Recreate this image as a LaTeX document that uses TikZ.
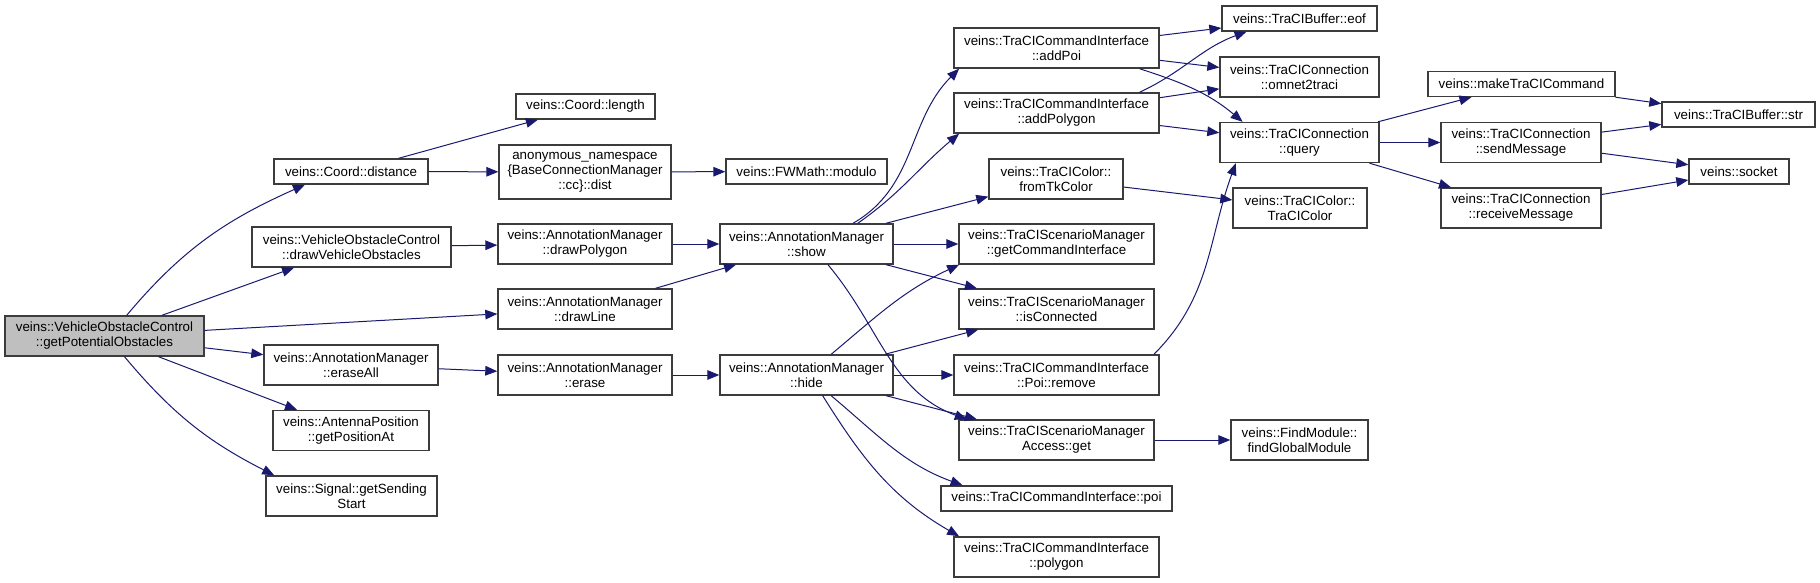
\documentclass[tikz,border=0pt]{standalone}
\usepackage{fontspec}
\setmainfont{Liberation Sans}
\usetikzlibrary{arrows.meta}
\definecolor{cEdge}{RGB}{25,25,112}
\definecolor{cRoot}{RGB}{191,191,191}
\definecolor{cLine}{RGB}{60,60,60}
\tikzset{
	fn/.style       ={rectangle, draw=cLine, line width=0.7pt, fill=white, inner sep=0pt, minimum height=20pt, align=center, font=\fontsize{6.67}{7.5}\selectfont},
	oneline/.style  ={minimum height=12.5pt},
	threeline/.style={minimum height=27pt},
	fnroot/.style   ={fn, fill=cRoot},
	call/.style     ={-{Triangle[length=6pt, width=4.8pt]}, draw=cEdge, line width=0.5pt},
}
\begin{document}
\begin{tikzpicture}[x=0.5pt, y=0.5pt]
	\useasboundingbox (0,0) rectangle (1820,-583);
	% caller
	\node[fnroot, minimum width=99.5pt] (root) at (104.5,-336) {veins::VehicleObstacleControl\\::getPotentialObstacles};
	% first level
	\node[fn, oneline, minimum width=77pt] (distance) at (351,-171.5) {veins::Coord::distance};
	\node[fn, minimum width=99.5pt] (drawVO) at (351.5,-247) {veins::VehicleObstacleControl\\::drawVehicleObstacles};
	\node[fn, minimum width=87pt] (eraseAll) at (351,-365) {veins::AnnotationManager\\::eraseAll};
	\node[fn, minimum width=78pt] (getPosAt) at (351,-430.5) {veins::AntennaPosition\\::getPositionAt};
	\node[fn, minimum width=85.5pt] (sendStart) at (351.5,-496) {veins::Signal::getSending\\Start};
	% second level
	\node[fn, oneline, minimum width=69.5pt] (length) at (585.5,-106.5) {veins::Coord::length};
	\node[fn, threeline, minimum width=86pt] (ccDist) at (585,-172) {anonymous\_namespace\\\{BaseConnectionManager\\::cc\}::dist};
	\node[fn, minimum width=87pt] (drawPolygon) at (585,-244) {veins::AnnotationManager\\::drawPolygon};
	\node[fn, minimum width=87pt] (drawLine) at (585,-309) {veins::AnnotationManager\\::drawLine};
	\node[fn, minimum width=87pt] (erase) at (585,-375) {veins::AnnotationManager\\::erase};
	% third level
	\node[fn, oneline, minimum width=80.5pt] (modulo) at (806.5,-171.5) {veins::FWMath::modulo};
	\node[fn, minimum width=86.5pt] (show) at (806.5,-244) {veins::AnnotationManager\\::show};
	\node[fn, minimum width=86.5pt] (hide) at (806.5,-375) {veins::AnnotationManager\\::hide};
	% fourth level
	\node[fn, minimum width=102.5pt] (addPoi) at (1056.5,-48) {veins::TraCICommandInterface\\::addPoi};
	\node[fn, minimum width=102.5pt] (addPolygon) at (1056.5,-113) {veins::TraCICommandInterface\\::addPolygon};
	\node[fn, minimum width=67pt] (fromTk) at (1056,-179) {veins::TraCIColor::\\fromTkColor};
	\node[fn, minimum width=97.5pt] (getCI) at (1056.5,-244) {veins::TraCIScenarioManager\\::getCommandInterface};
	\node[fn, minimum width=97.5pt] (isConn) at (1056.5,-309) {veins::TraCIScenarioManager\\::isConnected};
	\node[fn, minimum width=102.5pt] (poiRemove) at (1056.5,-375) {veins::TraCICommandInterface\\::Poi::remove};
	\node[fn, minimum width=97.5pt] (smGet) at (1056.5,-440) {veins::TraCIScenarioManager\\Access::get};
	\node[fn, oneline, minimum width=115.5pt] (poi) at (1056.5,-498.5) {veins::TraCICommandInterface::poi};
	\node[fn, minimum width=102.5pt] (polygon) at (1056.5,-557) {veins::TraCICommandInterface\\::polygon};
	% fifth level
	\node[fn, oneline, minimum width=77.5pt] (eof) at (1299.5,-18.5) {veins::TraCIBuffer::eof};
	\node[fn, minimum width=79.5pt] (omnet) at (1299.5,-77) {veins::TraCIConnection\\::omnet2traci};
	\node[fn, minimum width=79.5pt] (query) at (1299.5,-142.5) {veins::TraCIConnection\\::query};
	\node[fn, minimum width=67pt] (tcColor) at (1300,-208) {veins::TraCIColor::\\TraCIColor};
	\node[fn, minimum width=68.5pt] (findGM) at (1299.5,-440) {veins::FindModule::\\findGlobalModule};
	% sixth and seventh level
	\node[fn, oneline, minimum width=93.5pt] (makeCmd) at (1521.5,-84) {veins::makeTraCICommand};
	\node[fn, minimum width=80pt] (sendMsg) at (1521,-142.5) {veins::TraCIConnection\\::sendMessage};
	\node[fn, minimum width=80pt] (recvMsg) at (1521,-208) {veins::TraCIConnection\\::receiveMessage};
	\node[fn, oneline, minimum width=76.5pt] (str) at (1738.5,-114.5) {veins::TraCIBuffer::str};
	\node[fn, oneline, minimum width=50pt] (socket) at (1739,-171.5) {veins::socket};
	% straight calls
	\foreach \a/\b in {root/drawVO, root/drawLine, root/eraseAll, root/getPosAt,
		distance/length, distance/ccDist, ccDist/modulo, drawVO/drawPolygon,
		drawPolygon/show, drawLine/show, eraseAll/erase, erase/hide,
		show/fromTk, show/getCI, show/isConn, hide/isConn, hide/poiRemove, hide/smGet,
		addPoi/eof, addPoi/omnet, addPolygon/omnet, addPolygon/query, fromTk/tcColor,
		smGet/findGM, query/makeCmd, query/sendMsg, query/recvMsg,
		makeCmd/str, sendMsg/str, sendMsg/socket, recvMsg/socket}
		\draw[call] (\a) -- (\b);
	% bent calls
	\draw[call] (root.43) to[out=50, in=204] (distance.196);
	\draw[call] (root.-46) to[out=-50, in=153] (sendStart.165);
	\draw[call] (show.24) to[out=30, in=225] (addPoi.192);
	\draw[call] (show.22) to[out=35, in=220] (addPolygon.192);
	\draw[call] (show.-44) to[out=-50, in=160] (smGet.167);
	\draw[call] (hide.40) to[out=40, in=205] (getCI.192);
	\draw[call] (hide.-40) to[out=-40, in=160] (poi.172);
	\draw[call] (hide.-52) to[out=-58, in=150] (polygon.168);
	\draw[call] (addPoi.-14) to[out=-18, in=140] (query.160);
	\draw[call] (addPolygon.14) to[out=25, in=200] (eof.194);
	\draw[call] (poiRemove.12) to[out=45, in=250] (query.198);
\end{tikzpicture}
\end{document}
